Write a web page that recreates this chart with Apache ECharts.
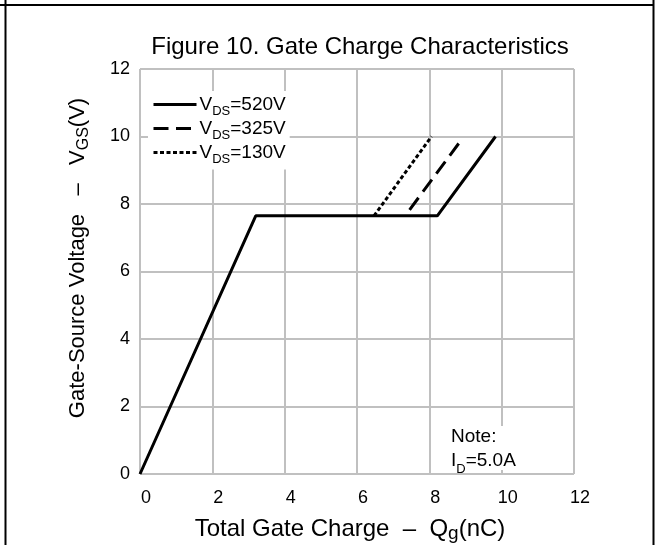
<!DOCTYPE html>
<html><head><meta charset="utf-8">
<script src="https://cdn.jsdelivr.net/npm/echarts@6/dist/echarts.min.js"></script>
<style>html,body{margin:0;padding:0;background:#fff}#c{width:656px;height:545px}</style>
</head><body><div id="c"></div>
<script>
// Data (Qg in nC, VGS in V)
const xTicks = [0, 2, 4, 6, 8, 10, 12];
const yTicks = [0, 2, 4, 6, 8, 10, 12];
const vds520 = [[0, 0], [3.2, 7.65], [8.22, 7.65], [9.83, 10.0]];
const vds325 = [[7.33, 7.65], [8.83, 9.82]];
const vds130 = [[6.47, 7.65], [8.06, 10.0]];
const seriesNames = ['520', '325', '130'];

const FONT = 'Liberation Sans';
const chart = echarts.init(document.getElementById('c'), null, {renderer: 'canvas'});
const legendRich = {
  a: {fontFamily: FONT, fontSize: 19, color: '#000', lineHeight: 20},
  s: {fontFamily: FONT, fontSize: 13, color: '#000', verticalAlign: 'bottom', padding: [0, 0, -3, 0], lineHeight: 20}
};
const legendFmt = n => '{a|V}{s|DS}{a|=' + n + 'V}';

chart.setOption({
  animation: false,
  backgroundColor: '#fff',
  title: {
    text: 'Figure 10. Gate Charge Characteristics',
    left: 355, top: 30, textAlign: 'center',
    textStyle: {fontFamily: FONT, fontSize: 24, fontWeight: 'normal', color: '#000'}
  },
  grid: {left: 140, right: 82, top: 69, bottom: 71, outerBoundsMode: 'none', containLabel: false},
  legend: {
    left: 148, top: 91, orient: 'vertical',
    backgroundColor: '#fff', padding: [4, 4, 4, 4],
    itemWidth: 43, itemHeight: 14, itemGap: 1.5,
    data: seriesNames,
    formatter: legendFmt,
    itemStyle: {opacity: 0, borderWidth: 0},
    lineStyle: {width: 3, dashOffset: 0},
    textStyle: {rich: legendRich, padding: [0, 0, 0, -2]}
  },
  xAxis: {
    type: 'value', min: 0, max: 12, interval: 2,
    name: '{a|Total Gate Charge  –  Q}{s|g}{a|(nC)}',
    nameLocation: 'middle', nameGap: 43,
    nameTextStyle: {padding: [0, 14, 0, 0], rich: {
      a: {fontFamily: FONT, fontSize: 24, color: '#000'},
      s: {fontFamily: FONT, fontSize: 19, color: '#000', verticalAlign: 'bottom', padding: [0, 0, -2, 0]}
    }},
    axisLine: {show: false}, axisTick: {show: false},
    axisLabel: {fontFamily: FONT, fontSize: 18, color: '#000', margin: 15, padding: [0, 0, 0, 12]},
    splitLine: {show: true, lineStyle: {color: '#c0c0c0', width: 2}}
  },
  yAxis: {
    type: 'value', min: 0, max: 12, interval: 2,
    name: '{a|Gate-Source Voltage   –   V}{s|GS}{a|(V)}',
    nameLocation: 'middle', nameGap: 51, nameRotate: 90,
    nameTextStyle: {padding: [0, 0, 0, 27], rich: {
      a: {fontFamily: FONT, fontSize: 22, color: '#000'},
      s: {fontFamily: FONT, fontSize: 16, color: '#000', verticalAlign: 'bottom', padding: [0, 0, -3, 0]}
    }},
    axisLine: {show: false}, axisTick: {show: false},
    axisLabel: {fontFamily: FONT, fontSize: 18, color: '#000', margin: 10, padding: [4, 0, 0, 0]},
    splitLine: {show: true, lineStyle: {color: '#c0c0c0', width: 2}}
  },
  series: [
    {name: '520', type: 'line', data: vds520, symbol: 'none', z: 3,
     lineStyle: {color: '#000', width: 3, type: 'solid'}, itemStyle: {color: '#000'}},
    {name: '325', type: 'line', data: vds325, symbol: 'none', z: 3,
     lineStyle: {color: '#000', width: 3, type: [15, 7.5], dashOffset: 15}, itemStyle: {color: '#000'}},
    {name: '130', type: 'line', data: vds130, symbol: 'none', z: 3,
     lineStyle: {color: '#000', width: 3, type: [4, 2.5]}, itemStyle: {color: '#000'}}
  ],
  graphic: [
    {type: 'rect', shape: {x: 446, y: 426, width: 80, height: 44}, style: {fill: '#fff'}, z: 5},
    {type: 'text', left: 451, top: 427, z: 6,
     style: {text: '{a|Note:}\n{a|I}{s|D}{a|=5.0A}', rich: {
       a: {fontFamily: FONT, fontSize: 19, color: '#000', lineHeight: 24},
       s: {fontFamily: FONT, fontSize: 13, color: '#000', verticalAlign: 'bottom', padding: [0, 0, -3, 0], lineHeight: 24}
     }}},
    {type: 'line', shape: {x1: 0, y1: 5, x2: 654, y2: 5}, style: {stroke: '#000', lineWidth: 2}, z: 10},
    {type: 'line', shape: {x1: 5.5, y1: 0, x2: 5.5, y2: 545}, style: {stroke: '#000', lineWidth: 2}, z: 10},
    {type: 'line', shape: {x1: 653.5, y1: 0, x2: 653.5, y2: 545}, style: {stroke: '#000', lineWidth: 2}, z: 10}
  ]
});
</script></body></html>
